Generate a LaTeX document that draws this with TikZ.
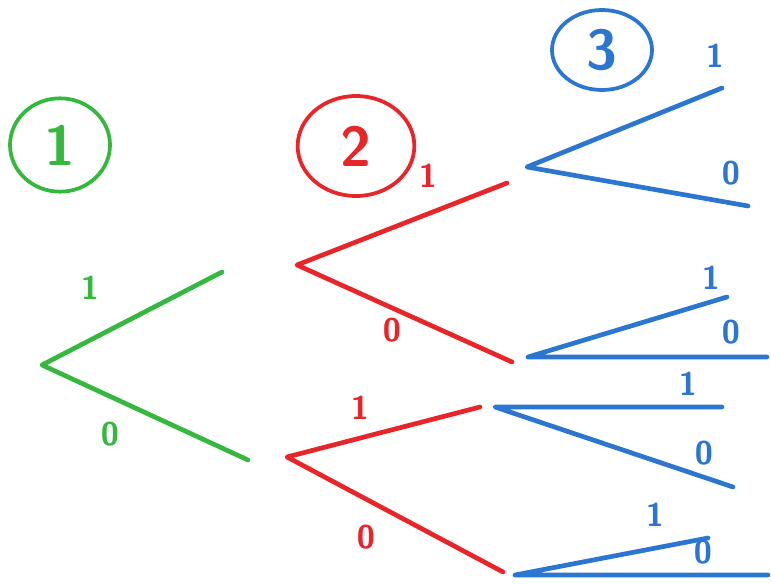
\documentclass[tikz,border=0pt]{standalone}
\usepackage{amsmath,amssymb}
\usetikzlibrary{shapes.geometric}
\definecolor{treegreen}{RGB}{52,185,62}
\definecolor{treered}{RGB}{232,38,42}
\definecolor{treeblue}{RGB}{42,118,208}

\begin{document}
\begin{tikzpicture}[x=0.03cm,y=-0.03cm]
\tikzset{
  branchpt/.style={coordinate},
  branch/.style={line width=4pt,line cap=round,line join=round},
  bitlabel/.style={font=\sffamily\bfseries\fontsize{28}{28}\selectfont,inner sep=0pt},
  stagering/.style={ellipse,draw,line width=3.2pt,inner sep=0pt,font=\sffamily\bfseries\fontsize{48}{48}\selectfont}
}
\useasboundingbox (0,0) rectangle (771,584);
% stage markers
\node[stagering,treegreen,minimum width=3cm,minimum height=2.8cm] (s_1) at (60,145) {1};
\node[stagering,treered,minimum width=3.5cm,minimum height=3cm] (s_2) at (356,146) {2};
\node[stagering,treeblue,minimum width=3cm,minimum height=2.4cm] (s_3) at (602,50) {3};
% green stage
\node[branchpt] (n_g) at (42,365) {};
\node[branchpt] (n_g1) at (222,272) {};
\node[branchpt] (n_g0) at (248,460) {};
% red stage
\node[branchpt] (n_r1) at (297,265) {};
\node[branchpt] (n_r11) at (507,183) {};
\node[branchpt] (n_r10) at (512,362) {};
\node[branchpt] (n_r0) at (287,457) {};
\node[branchpt] (n_r01) at (480,407) {};
\node[branchpt] (n_r00) at (503,572) {};
% blue stage
\node[branchpt] (n_b11) at (527,167) {};
\node[branchpt] (n_b111) at (722,88) {};
\node[branchpt] (n_b110) at (748,206) {};
\node[branchpt] (n_b10) at (528,357) {};
\node[branchpt] (n_b101) at (727,297) {};
\node[branchpt] (n_b100) at (767,357) {};
\node[branchpt] (n_b01) at (495,407) {};
\node[branchpt] (n_b011) at (722,407) {};
\node[branchpt] (n_b010) at (733,487) {};
\node[branchpt] (n_b00) at (515,575) {};
\node[branchpt] (n_b001) at (708,538) {};
\node[branchpt] (n_b000) at (768,575) {};
% branch labels
\node[bitlabel,treegreen] (l_g1) at (90,288) {1};
\node[bitlabel,treegreen] (l_g0) at (110,434) {0};
\node[bitlabel,treered] (l_r11) at (428,176) {1};
\node[bitlabel,treered] (l_r10) at (392,330) {0};
\node[bitlabel,treered] (l_r01) at (360,408) {1};
\node[bitlabel,treered] (l_r00) at (366,537) {0};
\node[bitlabel,treeblue] (l_b111) at (715,56) {1};
\node[bitlabel,treeblue] (l_b110) at (731,173) {0};
\node[bitlabel,treeblue] (l_b101) at (711,278) {1};
\node[bitlabel,treeblue] (l_b100) at (731,332) {0};
\node[bitlabel,treeblue] (l_b011) at (688,384) {1};
\node[bitlabel,treeblue] (l_b010) at (704,453) {0};
\node[bitlabel,treeblue] (l_b001) at (655,515) {1};
\node[bitlabel,treeblue] (l_b000) at (703,552) {0};
% branches
\draw[branch,treegreen] (n_g1) -- (n_g) -- (n_g0);
\draw[branch,treered] (n_r11) -- (n_r1) -- (n_r10);
\draw[branch,treered] (n_r01) -- (n_r0) -- (n_r00);
\draw[branch,treeblue] (n_b111) -- (n_b11) -- (n_b110);
\draw[branch,treeblue] (n_b101) -- (n_b10) -- (n_b100);
\draw[branch,treeblue] (n_b011) -- (n_b01) -- (n_b010);
\draw[branch,treeblue] (n_b001) -- (n_b00) -- (n_b000);
\end{tikzpicture}
\end{document}
